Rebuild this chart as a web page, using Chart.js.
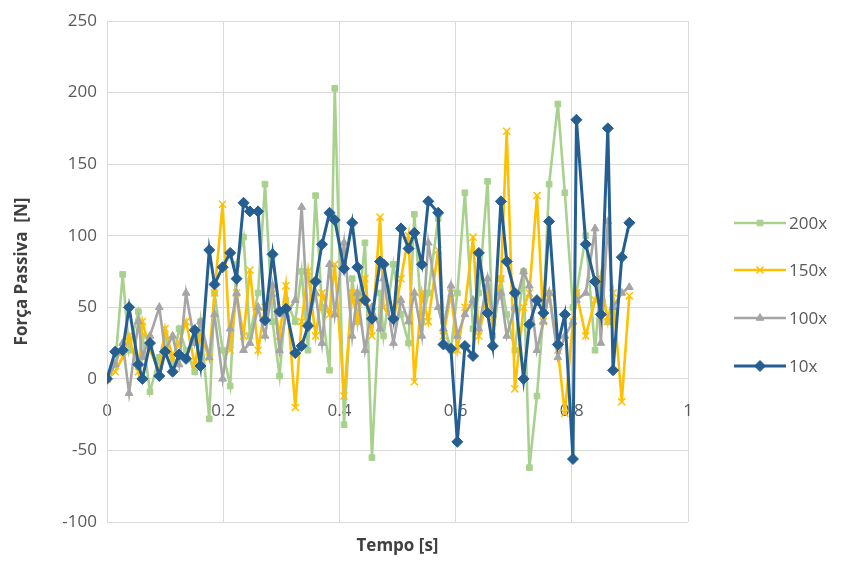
<!DOCTYPE html>
<html>
<head>
<meta charset="utf-8">
<script src="https://cdn.jsdelivr.net/npm/chart.js@4.4.1/dist/chart.umd.min.js"></script>
<style>
  html, body { margin: 0; padding: 0; background: #fff; }
  #wrap { width: 848px; height: 563px; position: relative; }
</style>
</head>
<body>
<div id="wrap"><canvas id="grafico"></canvas></div>
<script>
// Istanti di campionamento [s]
const tempo = [0, 0.014, 0.027, 0.038, 0.054, 0.061, 0.074, 0.090, 0.100, 0.113,
  0.124, 0.136, 0.151, 0.161, 0.176, 0.185, 0.199, 0.212, 0.223, 0.235,
  0.246, 0.260, 0.272, 0.285, 0.297, 0.308, 0.324, 0.335, 0.346, 0.359,
  0.370, 0.383, 0.392, 0.408, 0.422, 0.431, 0.444, 0.456, 0.470, 0.476,
  0.493, 0.506, 0.519, 0.529, 0.542, 0.553, 0.570, 0.579, 0.592, 0.603,
  0.616, 0.630, 0.640, 0.655, 0.664, 0.678, 0.688, 0.702, 0.717, 0.727,
  0.740, 0.751, 0.761, 0.776, 0.788, 0.802, 0.808, 0.824, 0.840, 0.850,
  0.862, 0.871, 0.886, 0.899];

// Forza passiva [N] per ciascun ingrandimento
const forza200x = [0, 10, 73, 20, 47, 30, -9, 15, 30, 10,
  35, 20, 5, 40, -28, 60, 20, -5, 80, 99,
  30, 60, 136, 40, 2, 55, 40, 75, 20, 128,
  50, 6, 203, -32, 70, 40, 95, -55, 60, 30,
  80, 45, 25, 115, 40, 60, 112, 40, 20, 60,
  130, 35, 60, 138, 30, 70, 45, 20, 75, -62,
  -12, 45, 136, 192, 130, 50, 60, 100, 20, 70,
  40];
const forza150x = [0, 5, 15, 30, 5, 40, 20, 5, 35, 15,
  25, 40, 10, 30, 15, 60, 122, 20, 60, 30,
  76, 20, 50, 60, 30, 65, -20, 40, 75, 30,
  60, 45, 80, -12, 60, 40, 70, 30, 113, 50,
  40, 70, 100, -2, 60, 40, 90, 30, 60, 20,
  50, 99, 30, 60, 40, 70, 173, -7, 50, 60,
  128, 40, 60, 20, -24, 40, 60, 30, 55, 70,
  40, 60, -16, 58];
const forza100x = [0, 10, 25, -10, 40, 15, 30, 50, 20, 30,
  10, 60, 25, 40, 15, 45, 0, 35, 60, 20,
  25, 50, 30, 65, 20, 45, 55, 120, 40, 60,
  25, 80, 45, 95, 30, 60, 20, 50, 35, 70,
  25, 55, 40, 60, 30, 95, 50, 35, 65, 30,
  45, 55, 35, 70, 45, 60, 30, 50, 75, 65,
  20, 40, 60, 15, 30, 40, 55, 60, 105, 25,
  110, 50, 60, 64];
const forza10x = [0, 19, 20, 50, 10, 0, 25, 2, 19, 5,
  17, 14, 34, 9, 90, 66, 78, 88, 70, 123,
  117, 117, 41, 87, 47, 49, 18, 23, 37, 68,
  94, 116, 111, 77, 109, 78, 55, 42, 82, 80,
  42, 105, 91, 102, 80, 124, 116, 24, 21, -44,
  23, 16, 88, 46, 23, 124, 82, 60, 0, 38,
  55, 46, 110, 24, 45, -56, 181, 94, 68, 45,
  175, 6, 85, 109];

const etichette = ['200x', '150x', '100x', '10x'];
const colori = ['#a9d18e', '#ffc000', '#a5a5a5', '#255e91'];
const marcatori = ['rect', 'crossRot', 'triangle', 'rectRot'];
const raggi = [4, 5, 4.5, 5.5];
const spessori = [2.6, 2.6, 2.6, 3];

const FONT = "'Segoe UI', 'Open Sans', sans-serif";
const GRIGIO = '#d9d9d9';
const TESTO = '#595959';

function punti(valori) {
    return valori.map((v, i) => ({ x: tempo[i], y: v }));
}

const serie = [forza200x, forza150x, forza100x, forza10x];
const datasets = serie.map((valori, i) => ({
    label: etichette[i],
    data: punti(valori),
    showLine: true,
    borderColor: colori[i],
    backgroundColor: colori[i],
    borderWidth: spessori[i],
    pointStyle: marcatori[i],
    pointRadius: raggi[i],
    pointBorderWidth: marcatori[i] === 'crossRot' ? 1.5 : 1,
    pointBorderColor: colori[i],
    pointBackgroundColor: colori[i],
    order: serie.length - 1 - i   // 10x sopra tutte le altre
}));

// Legenda a destra e titolo dell'asse orizzontale in basso
const decorazioni = {
    id: 'decorazioni',
    afterDraw(chart) {
        const ctx = chart.ctx;
        const area = chart.chartArea;
        ctx.save();
        ctx.font = 'bold 17px ' + FONT;
        ctx.fillStyle = '#404040';
        ctx.textAlign = 'center';
        ctx.textBaseline = 'middle';
        ctx.fillText('Tempo [s]', (area.left + area.right) / 2, 546);

        const yPos = [223, 270, 318, 366];
        ctx.font = '17px ' + FONT;
        ctx.textAlign = 'left';
        chart.data.datasets.forEach((ds, i) => {
            const y = yPos[i];
            ctx.strokeStyle = ds.borderColor;
            ctx.lineWidth = ds.borderWidth;
            ctx.beginPath();
            ctx.moveTo(734, y);
            ctx.lineTo(786, y);
            ctx.stroke();
            ctx.fillStyle = ds.backgroundColor;
            ctx.lineWidth = ds.pointBorderWidth;
            Chart.helpers.drawPoint(ctx, {
                pointStyle: ds.pointStyle,
                radius: ds.pointRadius,
                rotation: 0,
                borderWidth: ds.pointBorderWidth
            }, 760, y);
            ctx.fillStyle = TESTO;
            ctx.fillText(ds.label, 789, y + 1);
        });
        ctx.restore();
    }
};

new Chart(document.getElementById('grafico'), {
    type: 'scatter',
    data: { datasets: datasets },
    options: {
        responsive: true,
        maintainAspectRatio: false,
        animation: false,
        layout: { padding: { left: 0, top: 21, right: 160, bottom: 41 } },
        plugins: {
            legend: { display: false },
            tooltip: { enabled: false }
        },
        scales: {
            x: {
                type: 'linear',
                position: { y: 0 },
                min: 0,
                max: 1,
                ticks: {
                    stepSize: 0.2,
                    color: TESTO,
                    font: { size: 17, family: FONT },
                    padding: 22,
                    callback: v => String(Number(v.toFixed(1)))
                },
                grid: { color: GRIGIO, lineWidth: 1, drawTicks: false },
                border: { color: GRIGIO }
            },
            y: {
                min: -100,
                max: 250,
                ticks: { stepSize: 50, color: TESTO, font: { size: 17, family: FONT }, padding: 10 },
                grid: { color: GRIGIO, lineWidth: 1, drawTicks: false },
                border: { color: GRIGIO },
                title: {
                    display: true,
                    text: 'Força Passiva  [N]',
                    color: '#404040',
                    font: { size: 17, weight: 'bold', family: FONT },
                    padding: { top: 12, bottom: 0 }
                },
                afterFit(scale) { scale.width = 107; }
            }
        }
    },
    plugins: [decorazioni]
});
</script>
</body>
</html>
